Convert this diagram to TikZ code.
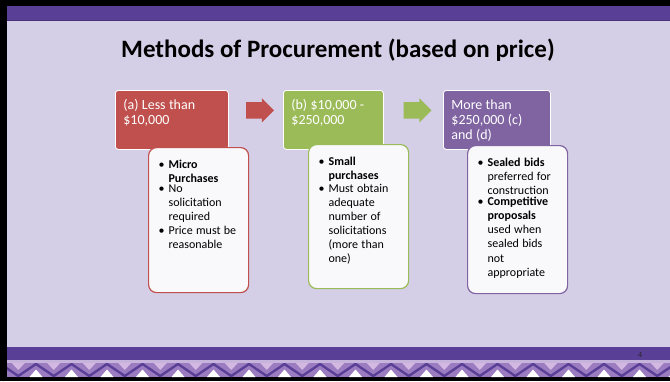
\documentclass[tikz,border=0pt]{standalone}
\usepackage{fontspec}
\setmainfont{Carlito}
\newfontfamily\numfont{Liberation Serif}
\usetikzlibrary{shapes.arrows,calc}

\definecolor{slidebg}{HTML}{D4CFE6}
\definecolor{bandpurple}{HTML}{5A3F97}
\definecolor{zigmid}{HTML}{9C7CC1}
\definecolor{zigpink}{HTML}{D3B8E2}
\definecolor{zigstripe}{HTML}{C7B4DC}
\definecolor{boxred}{HTML}{C0504D}
\definecolor{boxgreen}{HTML}{9BBB59}
\definecolor{boxpurple}{HTML}{8064A2}
\definecolor{listfill}{HTML}{F9F9FC}

\newcommand{\listfont}{\fontsize{12}{14.1}\selectfont}
\newcommand{\bul}[1]{\makebox[10pt][l]{\textbullet}%
  \parbox[t]{70pt}{\listfont\raggedright #1}\par}
\newcommand{\listsetup}{\listfont\setlength{\parskip}{1.8pt}}
\newcommand{\topsetup}{\fontsize{14}{15}\selectfont}

\tikzset{
  topbox/.style={fill=#1, draw=white, line width=0.8pt, rounded corners=3pt,
    text=white, anchor=north west, align=left, inner xsep=8pt, inner ysep=0pt,
    text height=19.5pt, text depth=39.5pt, execute at begin node=\topsetup},
  listbox/.style={fill=listfill, draw=#1, line width=1.2pt, rounded corners=8pt,
    anchor=north west, align=left, text width=80pt, inner xsep=10pt,
    inner ysep=0pt, text height=20.5pt, execute at begin node=\listsetup},
  blockarrow/.style={single arrow, fill=#1, minimum height=28pt,
    single arrow head extend=4pt, inner xsep=0pt, inner ysep=8pt}
}

\begin{document}
\begin{tikzpicture}[x=1pt,y=-1pt]
  \useasboundingbox (0,0) rectangle (670,381);
  % slide frame and bands
  \fill[black] (0,0) rectangle (670,381);
  \fill[slidebg] (7,6) rectangle (670,377);
  \fill[bandpurple] (7,6) rectangle (670,20.5);
  \fill[bandpurple!80!black] (7,19.5) rectangle (670,21);
  \fill[bandpurple] (7,347) rectangle (670,360);
  \fill[zigstripe] (7,360) rectangle (670,363);
  \begin{scope}
    \clip (7,363) rectangle (670,377);
    \fill[zigmid] (7,363) rectangle (670,377);
    \foreach \k in {0,...,19}{
      \fill[zigpink] ({18.25+35.5*\k-6.5},363) -- ({18.25+35.5*\k+6.5},363)
        -- ({18.25+35.5*\k},370) -- cycle;
      \fill[white] ({36+35.5*\k-6.5},377) -- ({36+35.5*\k+6.5},377)
        -- ({36+35.5*\k},369.5) -- cycle;
    }
    \draw[bandpurple, line width=2.4pt, line join=miter] (0.5,364)
      \foreach \k in {0,...,19}{ -- ({18.25+35.5*\k},376) -- ({36+35.5*\k},364) };
  \end{scope}
  \node[anchor=base, text=black!85] (pagenum) at (640,357)
    {\numfont\fontsize{8}{9}\selectfont 4};

  % title
  \node[anchor=base, font=\fontsize{25}{30}\selectfont\bfseries] (title) at (338,57.5)
    {Methods of Procurement (based on price)};

  % price ranges
  \node[topbox=boxred, text width=97pt] (topA) at (115,90)
    {(a) Less than\\\$10,000};
  \node[topbox=boxgreen, text width=84pt] (topB) at (283,90)
    {(b) \$10,000 -\\\$250,000};
  \node[topbox=boxpurple, text width=91pt] (topC) at (443,90)
    {More than\\\$250,000 (c)\\and (d)};

  \node[blockarrow=boxred] (arrowAB) at ($(topA.east)!.5!(topB.west)+(0,-9.5)$) {};
  \node[blockarrow=boxgreen] (arrowBC) at ($(topB.east)!.5!(topC.west)+(0,-9.5)$) {};

  % methods
  \node[listbox=boxred, text depth=124.5pt] (listA) at (148,147)
    {\bul{\textbf{Micro}\\\textbf{Purchases}}
     \bul{No\\solicitation\\required}
     \bul{Price must be\\reasonable}};
  \node[listbox=boxgreen, text depth=123.5pt] (listB) at (308,144)
    {\bul{\textbf{Small}\\\textbf{purchases}}
     \bul{Must obtain\\adequate\\number of\\solicitations\\(more than\\one)}};
  \node[listbox=boxpurple, text depth=127.5pt] (listC) at (467,145)
    {\bul{\textbf{Sealed bids}\\preferred for\\construction}
     \bul{\textbf{Competitive}\\\textbf{proposals}\\used when\\sealed bids\\not\\appropriate}};
\end{tikzpicture}
\end{document}
